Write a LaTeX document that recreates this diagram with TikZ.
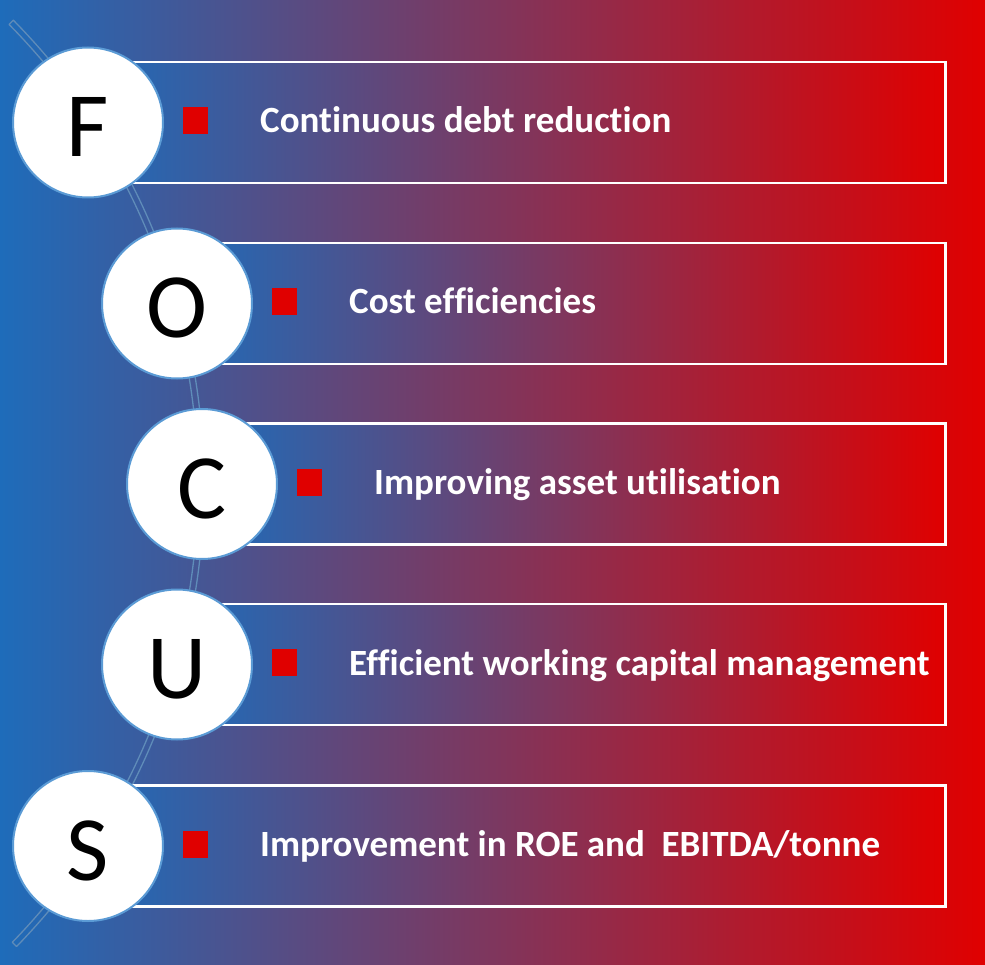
\documentclass[tikz,border=0pt]{standalone}
\usepackage{fontspec}
\setmainfont{Carlito}[Ligatures=NoCommon]
\definecolor{bgL}{RGB}{30,108,186}
\definecolor{bgR}{RGB}{224,0,0}
\definecolor{ringC}{RGB}{91,155,213}
\definecolor{arcC}{RGB}{95,140,185}
\definecolor{sqC}{RGB}{224,0,0}
\begin{document}
\begin{tikzpicture}[x=1pt,y=-1pt,
  rowbox/.style={draw=white, line width=2.5pt, left color=bgL, right color=bgR, inner sep=0pt, anchor=west},
  ring/.style={circle, fill=white, draw=ringC, line width=2pt, minimum size=150pt, inner sep=0pt},
  letter/.style={anchor=base, inner sep=0pt, font=\fontsize{92}{92}\selectfont},
  bullet/.style={fill=sqC, minimum width=25pt, minimum height=27pt, inner sep=0pt},
  label/.style={anchor=base west, inner sep=0pt, text=white, font=\bfseries\fontsize{37}{40}\selectfont}]
\useasboundingbox (0,0) rectangle (985,965);
\shade[left color=bgL, right color=bgR] (0,0) rectangle (985,965);
% arc band
\draw[arcC, line width=1.3pt, line join=round]
  ([shift={(-458,485)}]-44.6:662) arc[start angle=-44.6, end angle=44.2, radius=662]
  -- ([shift={(-458,485)}]44.2:656) arc[start angle=44.2, end angle=-44.6, radius=656] -- cycle;
\foreach \i/\cx/\cy/\L/\T in {1/88/122.5/F/{Continuous debt reduction},
                              2/177/303.5/O/{Cost efficiencies},
                              3/202/484/C/{Improving asset utilisation},
                              4/177/664.5/U/{Efficient working capital management},
                              5/88/846/S/{Improvement in ROE and~~EBITDA/tonne}}{
  \pgfmathsetmacro\w{944-\cx}
  \node[rowbox, minimum width=\w pt, minimum height=121pt] (r\i) at (\cx,\cy) {};
  \node[ring] (c\i) at (\cx,\cy) {};
  \node[letter] (l\i) at (\cx,\cy+34) {\L};
  \node[bullet] (s\i) at (\cx+107,\cy-2) {};
  \node[label] (t\i) at (\cx+172,\cy+10.5) {\T};
}
\end{tikzpicture}
\end{document}
